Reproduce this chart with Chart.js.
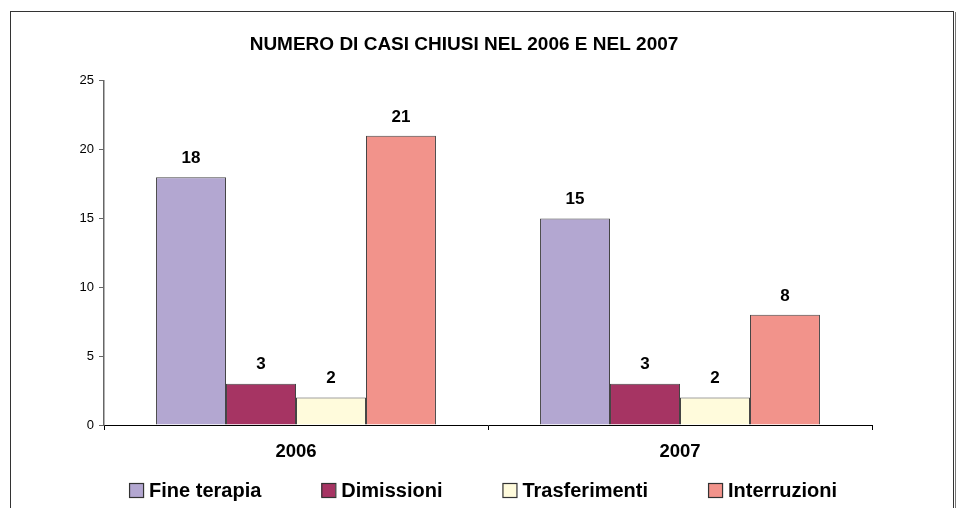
<!DOCTYPE html>
<html>
<head>
<meta charset="utf-8">
<script src="https://cdn.jsdelivr.net/npm/chart.js@4.4.1/dist/chart.umd.min.js"></script>
<style>
  html, body { margin: 0; padding: 0; background: #fff; }
  #wrap { width: 960px; height: 508px; position: relative; }
</style>
</head>
<body>
<div id="wrap"><canvas id="chart" width="960" height="508"></canvas></div>
<script>
// data
const years = ['2006', '2007'];
const seriesNames = ['Fine terapia', 'Dimissioni', 'Trasferimenti', 'Interruzioni'];
const fineTerapia = [18, 15];
const dimissioni = [3, 3];
const trasferimenti = [2, 2];
const interruzioni = [21, 8];
const yTicks = [0, 5, 10, 15, 20, 25];
const titleText = 'NUMERO DI CASI CHIUSI NEL 2006 E NEL 2007';

const colors = ['#b3a7d1', '#a63463', '#fffbdc', '#f2938b'];
const values = [fineTerapia, dimissioni, trasferimenti, interruzioni];

const FONT = '"Liberation Sans", Arial, sans-serif';

// frame around the chart (bottom edge is off the picture)
const framePlugin = {
  id: 'frame',
  beforeDraw(chart) {
    const ctx = chart.ctx;
    ctx.save();
    ctx.fillStyle = '#fff';
    ctx.fillRect(0, 0, chart.width, chart.height);
    ctx.strokeStyle = '#333';
    ctx.lineWidth = 1;
    ctx.strokeRect(10.5, 11.5, 943, 600);
    ctx.strokeStyle = '#777';
    ctx.beginPath();
    ctx.moveTo(955.5, 12);
    ctx.lineTo(955.5, 508);
    ctx.stroke();
    ctx.restore();
  }
};

// value labels above each bar
const valueLabels = {
  id: 'valueLabels',
  afterDatasetsDraw(chart) {
    const ctx = chart.ctx;
    ctx.save();
    ctx.font = 'bold 17px ' + FONT;
    ctx.fillStyle = '#000';
    ctx.textAlign = 'center';
    ctx.textBaseline = 'middle';
    chart.data.datasets.forEach((ds, i) => {
      chart.getDatasetMeta(i).data.forEach((bar, j) => {
        ctx.fillText(ds.data[j], bar.x, bar.y - 19);
      });
    });
    ctx.restore();
  }
};

// legend drawn by hand so the spacing matches
const bottomLegend = {
  id: 'bottomLegend',
  afterDraw(chart) {
    const ctx = chart.ctx;
    const box = 14, gap = 6, spacing = 60, cy = 490, centerX = 483;
    ctx.save();
    ctx.font = 'bold 20px ' + FONT;
    ctx.textBaseline = 'middle';
    const items = chart.data.datasets.map(ds => ({
      label: ds.label, color: ds.backgroundColor, w: box + gap + ctx.measureText(ds.label).width
    }));
    const total = items.reduce((s, it) => s + it.w, 0) + spacing * (items.length - 1);
    let x = centerX - total / 2;
    items.forEach(it => {
      ctx.fillStyle = it.color;
      ctx.fillRect(x, cy - box / 2, box, box);
      ctx.strokeStyle = '#333';
      ctx.lineWidth = 1.2;
      ctx.strokeRect(x + 0.5, cy - box / 2 + 0.5, box, box);
      ctx.fillStyle = '#000';
      ctx.fillText(it.label, x + box + gap, cy + 1);
      x += it.w + spacing;
    });
    ctx.restore();
  }
};

new Chart(document.getElementById('chart'), {
  type: 'bar',
  data: {
    labels: years,
    datasets: seriesNames.map((name, i) => ({
      label: name,
      data: values[i],
      backgroundColor: colors[i],
      borderColor: '#444',
      borderWidth: 1,
      borderSkipped: 'bottom',
      categoryPercentage: 0.729,
      barPercentage: 1
    }))
  },
  options: {
    responsive: false,
    animation: false,
    layout: { padding: { left: 56, right: 88, top: 0, bottom: 0 } },
    plugins: {
      legend: { display: false },
      tooltip: { enabled: false },
      title: {
        display: true,
        text: titleText,
        color: '#000',
        font: { family: FONT, size: 19, weight: 'bold', lineHeight: 1.2 },
        padding: { top: 33, bottom: 25 }
      }
    },
    scales: {
      x: {
        afterFit(scale) { scale.height = 83; },
        grid: { display: true, drawOnChartArea: false, tickLength: 5, color: '#000', offset: true },
        border: { color: '#000', width: 1 },
        ticks: { color: '#000', padding: 11, font: { family: FONT, size: 18.5, weight: 'bold' } }
      },
      y: {
        min: 0,
        max: 25,
        afterFit(scale) { scale.width = 48; },
        afterBuildTicks(scale) { scale.ticks = yTicks.map(v => ({ value: v })); },
        grid: { display: true, drawOnChartArea: false, tickLength: 5, color: '#666' },
        border: { color: '#666', width: 1.5 },
        ticks: { color: '#000', padding: 5, font: { family: FONT, size: 13 } }
      }
    }
  },
  plugins: [framePlugin, valueLabels, bottomLegend]
});
</script>
</body>
</html>
